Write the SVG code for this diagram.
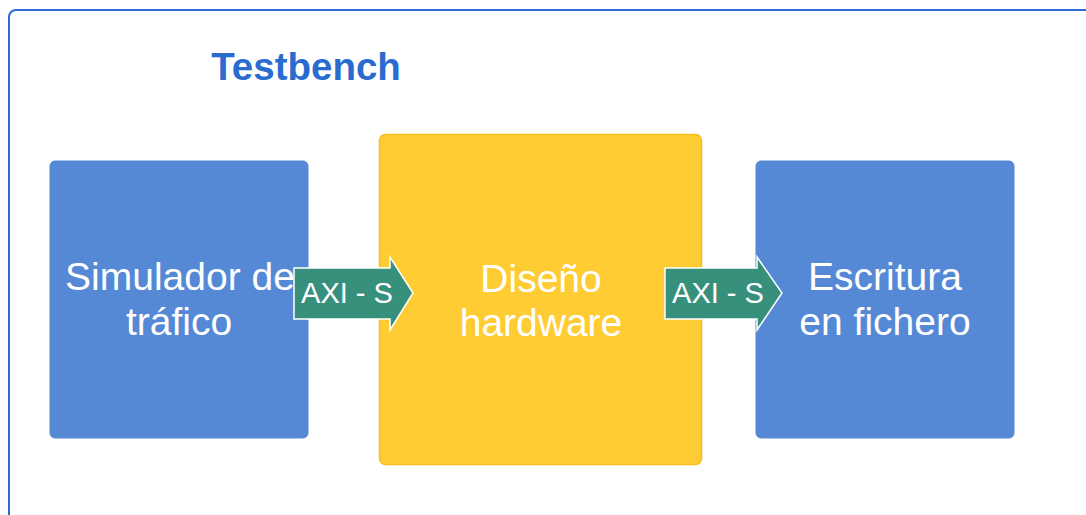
<svg xmlns="http://www.w3.org/2000/svg" width="1086" height="515" viewBox="0 0 1086 515">
<style>
.lbl{font-family:"Liberation Sans",Arial,sans-serif;fill:#ffffff;text-anchor:middle}
.big{font-size:39px}
.axi{font-size:29px}
.blue{fill:#5589d6;stroke:#5589d6;stroke-width:1}
.arrow{fill:#37907c;stroke:#ffffff;stroke-width:1.5}
</style>
<rect id="container" x="9" y="10" width="1100" height="530" rx="7" fill="#ffffff" stroke="#2a6bd6" stroke-width="2"/>
<text id="title" x="306" y="80" font-family="'Liberation Sans',Arial,sans-serif" font-size="38.5" font-weight="bold" fill="#2a6bd0" text-anchor="middle">Testbench</text>
<g id="sim">
<rect class="blue" x="50" y="161" width="258" height="277" rx="5"/>
<text class="lbl big" x="180" y="290">Simulador de</text>
<text class="lbl big" x="179" y="335">tráfico</text>
</g>
<g id="hw">
<rect x="379.5" y="134.5" width="322" height="330" rx="6" fill="#ffcc33" stroke="#f7bd1c" stroke-width="1.5"/>
<text class="lbl big" x="541" y="292">Diseño</text>
<text class="lbl big" x="541" y="336">hardware</text>
</g>
<g id="out">
<rect class="blue" x="756" y="161" width="258" height="277" rx="5"/>
<text class="lbl big" x="885" y="290">Escritura</text>
<text class="lbl big" x="885" y="335">en fichero</text>
</g>
<g id="connectors">
<g id="axi1">
<polygon class="arrow" points="294,268 390,268 390,257 413,293 390,330 390,319 294,319"/>
<text class="lbl axi" x="347" y="303">AXI - S</text>
</g>
<g id="axi2">
<polygon class="arrow" points="665,268 757,268 757,257 782,293 757,330 757,319 665,319"/>
<text class="lbl axi" x="718" y="303">AXI - S</text>
</g>
</g>
</svg>
